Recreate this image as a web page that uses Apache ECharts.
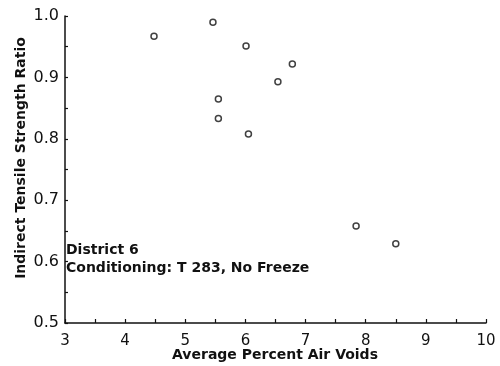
<!DOCTYPE html>
<html>
<head>
<meta charset="utf-8">
<script src="https://cdn.jsdelivr.net/npm/echarts@6/dist/echarts.min.js"></script>
<style>
  html, body { margin: 0; padding: 0; background: #fff; }
  #chart { width: 500px; height: 366px; }
</style>
</head>
<body>
<div id="chart"></div>
<script>
// Average percent air voids vs. indirect tensile strength ratio
const airVoids = [4.48, 5.46, 6.01, 6.78, 6.54, 5.55, 5.55, 6.05, 7.84, 8.50];
const tsr      = [0.967, 0.990, 0.951, 0.922, 0.893, 0.865, 0.833, 0.808, 0.658, 0.629];

const xTitle = 'Average Percent Air Voids';
const yTitle = 'Indirect Tensile Strength Ratio';
const noteLines = ['District 6', 'Conditioning: T 283, No Freeze'];

const FONT = '"DejaVu Sans", sans-serif';
const chart = echarts.init(document.getElementById('chart'));

const isMultiple = (v, step) => Math.abs(v / step - Math.round(v / step)) < 1e-6;

chart.setOption({
  animation: false,
  backgroundColor: '#fff',
  grid: { left: 65, right: 14, top: 16, bottom: 43 },
  xAxis: {
    type: 'value', min: 3, max: 10, interval: 0.5,
    axisLine: { lineStyle: { color: '#111', width: 1.5 } },
    axisTick: { inside: true, length: 4, lineStyle: { color: '#111', width: 1.2 } },
    axisLabel: {
      fontFamily: FONT, fontSize: 15, color: '#111', margin: 11,
      formatter: v => isMultiple(v, 1) ? String(Math.round(v)) : ''
    },
    splitLine: { show: false }
  },
  yAxis: {
    type: 'value', min: 0.5, max: 1.0, interval: 0.05,
    axisLine: { lineStyle: { color: '#111', width: 1.5 } },
    axisTick: { inside: true, length: 3, lineStyle: { color: '#111', width: 1.2 } },
    axisLabel: {
      fontFamily: FONT, fontSize: 16, color: '#111', margin: 6,
      formatter: v => isMultiple(v, 0.1) ? v.toFixed(1) : ''
    },
    splitLine: { show: false }
  },
  series: [{
    type: 'scatter',
    data: airVoids.map((x, i) => [x, tsr[i]]),
    symbol: 'circle',
    symbolSize: 6,
    itemStyle: { color: '#fff', borderColor: '#111', borderWidth: 1.5 }
  }],
  graphic: [
    {
      type: 'text', x: 275, y: 355,
      style: { text: xTitle, fontFamily: FONT, fontWeight: 'bold', fontSize: 14, fill: '#111',
               align: 'center', verticalAlign: 'middle' }
    },
    {
      type: 'text', x: 21, y: 158, rotation: Math.PI / 2,
      style: { text: yTitle, fontFamily: FONT, fontWeight: 'bold', fontSize: 14, fill: '#111',
               align: 'center', verticalAlign: 'middle' }
    },
    {
      type: 'text', left: 66, top: 241,
      style: { text: noteLines.join('\n'), fontFamily: FONT, fontWeight: 'bold', fontSize: 14, lineHeight: 18, fill: '#111' }
    }
  ]
});
</script>
</body>
</html>
